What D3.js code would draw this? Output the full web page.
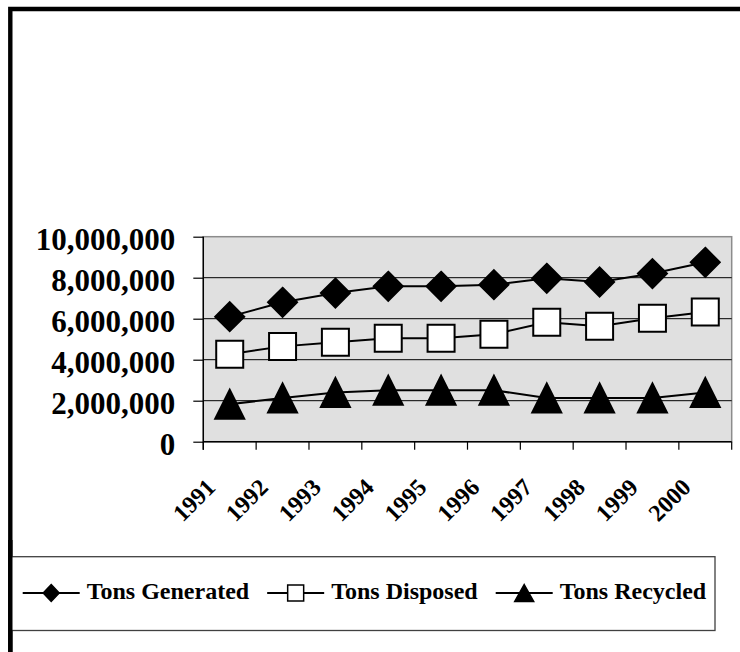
<!DOCTYPE html>
<html>
<head>
<meta charset="utf-8">
<script src="https://cdn.jsdelivr.net/npm/d3@7"></script>
<style>
  html, body { margin: 0; padding: 0; background: #fff; }
  svg { display: block; }
  text { font-family: "Liberation Serif", "Times New Roman", serif; font-weight: bold; fill: #000; }
</style>
</head>
<body>
<svg id="chart" width="740" height="652"></svg>
<script>
// Annual municipal solid waste tonnage, 1991-2000
const years = ["1991", "1992", "1993", "1994", "1995", "1996", "1997", "1998", "1999", "2000"];
const tonsGenerated = [6100000, 6800000, 7250000, 7580000, 7580000, 7660000, 7970000, 7790000, 8200000, 8750000];
const tonsDisposed  = [4270000, 4650000, 4850000, 5050000, 5050000, 5240000, 5830000, 5630000, 6020000, 6330000];
const tonsRecycled  = [1830000, 2130000, 2400000, 2510000, 2510000, 2510000, 2130000, 2130000, 2130000, 2400000];
const seriesNames = ["Tons Generated", "Tons Disposed", "Tons Recycled"];
const yTickValues = [0, 2000000, 4000000, 6000000, 8000000, 10000000];

const seriesValues = [tonsGenerated, tonsDisposed, tonsRecycled];
const markerKinds = ["diamond", "square", "triangle"];

const svg = d3.select("#chart");

// Plot area geometry
const plot = { left: 203.3, right: 731.7, top: 236.7, bottom: 441.7 };

const x = d3.scaleBand().domain(years).range([plot.left, plot.right]).padding(0);
const y = d3.scaleLinear().domain([0, 10000000]).range([plot.bottom, plot.top]);

// Marker path generators (w = width, h = height), centred on the origin
function markerPath(kind, w, h) {
  const a = w / 2, b = h / 2;
  if (kind === "diamond") return `M0,${-b}L${a},0L0,${b}L${-a},0Z`;
  if (kind === "square") return `M${-a},${-b}H${a}V${b}H${-a}Z`;
  return `M0,${-b}L${a},${b}L${-a},${b}Z`;
}
const markerFill = { diamond: "#000", square: "#fff", triangle: "#000" };

// Outer frame (thick black border running off the right and bottom edges)
svg.append("path")
  .attr("d", "M10.3,900V9H900")
  .attr("fill", "none")
  .attr("stroke", "#000")
  .attr("stroke-width", 4.4);

// Plot background
svg.append("rect")
  .attr("x", plot.left).attr("y", plot.top)
  .attr("width", plot.right - plot.left).attr("height", plot.bottom - plot.top)
  .attr("fill", "#e0e0e0")
  .attr("stroke", "#8c8c8c")
  .attr("stroke-width", 1.5);

// Horizontal gridlines
svg.append("g")
  .selectAll("line")
  .data(yTickValues.filter(v => v > 0 && v < 10000000))
  .join("line")
  .attr("x1", plot.left).attr("x2", plot.right)
  .attr("y1", d => y(d)).attr("y2", d => y(d))
  .attr("stroke", "#000")
  .attr("stroke-width", 1);

// Value axis
const yAxis = d3.axisLeft(y)
  .tickValues(yTickValues)
  .tickFormat(d3.format(","))
  .tickSize(10)
  .tickPadding(18);
const gy = svg.append("g")
  .attr("transform", `translate(${plot.left},0)`)
  .call(yAxis);
gy.select(".domain").remove();
gy.selectAll(".tick line").attr("stroke", "#000").attr("stroke-width", 1.2);
gy.selectAll(".tick text")
  .attr("font-size", 31)
  .attr("font-family", null)
  .attr("dy", "0.40em");
svg.append("line")
  .attr("x1", plot.left).attr("x2", plot.left)
  .attr("y1", plot.top).attr("y2", plot.bottom + 8)
  .attr("stroke", "#000").attr("stroke-width", 1.4);

// Category axis: baseline, tick marks at band boundaries, rotated year labels
svg.append("line")
  .attr("x1", plot.left).attr("x2", plot.right)
  .attr("y1", plot.bottom).attr("y2", plot.bottom)
  .attr("stroke", "#000").attr("stroke-width", 1.4);
const boundaries = years.map(d => x(d)).concat([x(years[years.length - 1]) + x.bandwidth()]);
svg.append("g")
  .selectAll("line")
  .data(boundaries)
  .join("line")
  .attr("x1", d => d).attr("x2", d => d)
  .attr("y1", plot.bottom).attr("y2", plot.bottom + 8)
  .attr("stroke", "#000").attr("stroke-width", 1.2);
svg.append("g")
  .selectAll("text")
  .data(years)
  .join("text")
  .attr("font-size", 24)
  .attr("text-anchor", "end")
  .attr("transform", d => `translate(${x(d) + x.bandwidth() / 2 - 13},${plot.bottom + 47}) rotate(-45)`)
  .text(d => d);

// Series lines and markers
const line = d3.line()
  .x((d, i) => x(years[i]) + x.bandwidth() / 2)
  .y(d => y(d));

seriesValues.forEach((vals, s) => {
  svg.append("path")
    .datum(vals)
    .attr("d", line)
    .attr("fill", "none")
    .attr("stroke", "#000")
    .attr("stroke-width", 2);
});

seriesValues.forEach((vals, s) => {
  const kind = markerKinds[s];
  const w = kind === "square" ? 27 : 29;
  const h = kind === "square" ? 27 : 29;
  svg.append("g")
    .selectAll("path")
    .data(vals)
    .join("path")
    .attr("transform", (d, i) => `translate(${x(years[i]) + x.bandwidth() / 2},${y(d)})`)
    .attr("d", markerPath(kind, w, h))
    .attr("fill", markerFill[kind])
    .attr("stroke", "#000")
    .attr("stroke-width", 2)
    .attr("stroke-linejoin", "miter");
});

// Legend
const legend = { left: 10, right: 715, top: 556.7, bottom: 630.5, midY: 593 };
svg.append("rect")
  .attr("x", legend.left).attr("y", legend.top)
  .attr("width", legend.right - legend.left).attr("height", legend.bottom - legend.top)
  .attr("fill", "#fff")
  .attr("stroke", "#404040")
  .attr("stroke-width", 1.3);
svg.append("path")
  .attr("d", "M10.3,540V900")
  .attr("stroke", "#000")
  .attr("stroke-width", 4.4);

const legendMarkerSize = { diamond: [16, 17], square: [16, 16], triangle: [19, 17] };
let cursor = 22.7;
seriesNames.forEach((name, s) => {
  const kind = markerKinds[s];
  const g = svg.append("g");
  g.append("line")
    .attr("x1", cursor).attr("x2", cursor + 57)
    .attr("y1", legend.midY).attr("y2", legend.midY)
    .attr("stroke", "#000").attr("stroke-width", 1.8);
  const [mw, mh] = legendMarkerSize[kind];
  g.append("path")
    .attr("transform", `translate(${cursor + 28.5},${legend.midY})`)
    .attr("d", markerPath(kind, mw, mh))
    .attr("fill", markerFill[kind])
    .attr("stroke", "#000")
    .attr("stroke-width", 1.5);
  const t = g.append("text")
    .attr("x", cursor + 64)
    .attr("y", 598.5)
    .attr("font-size", 24)
    .text(name);
  cursor = cursor + 64 + t.node().getComputedTextLength() + 18;
});
</script>
</body>
</html>
